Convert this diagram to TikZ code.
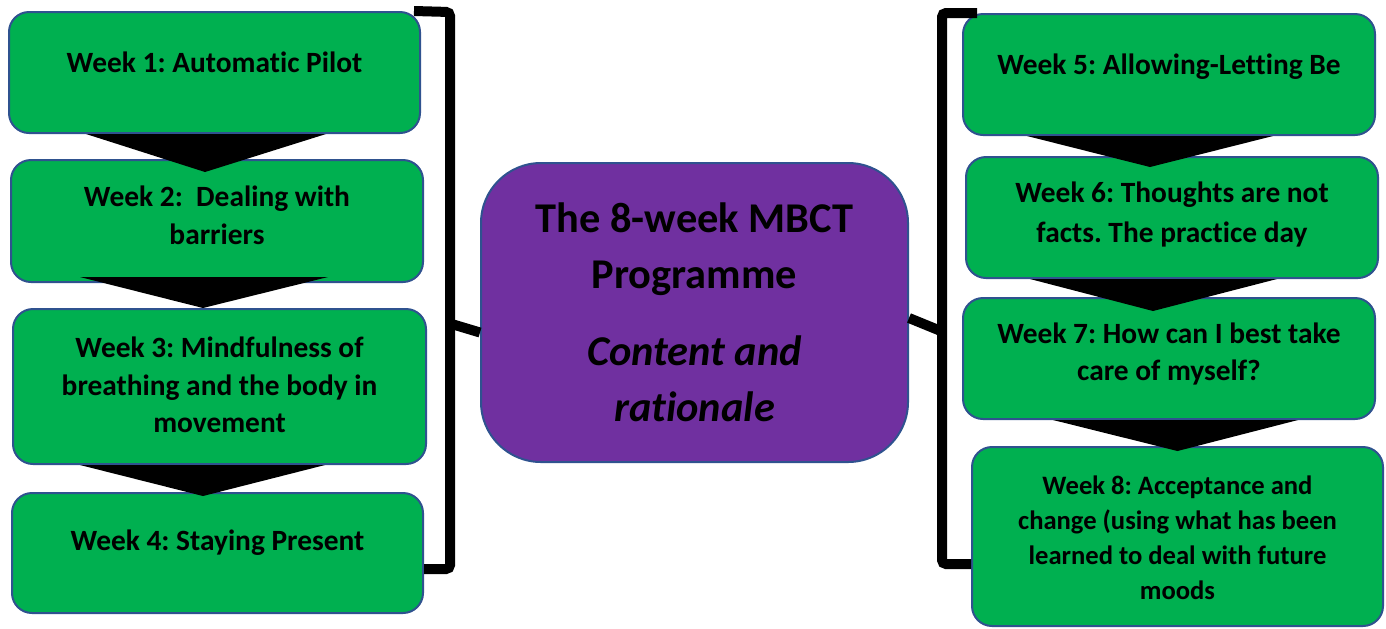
\documentclass[tikz,border=0pt]{standalone}
\usepackage{fontspec}
\setmainfont{Carlito}[Ligatures=NoCommon]
\frenchspacing
\definecolor{weekgreen}{HTML}{00B050}
\definecolor{boxblue}{HTML}{2F528F}
\definecolor{mbctpurple}{HTML}{7030A0}
\tikzset{
	weekbox/.style={draw=boxblue, fill=weekgreen, line width=1pt, rounded corners=10pt, inner sep=0pt},
	weektext/.style={align=center, inner sep=0pt, font=\bfseries\fontsize{14.7}{18.75}\selectfont},
	mainbox/.style={draw=boxblue, fill=mbctpurple, line width=1pt, rounded corners=30pt, inner sep=0pt, align=center, font=\bfseries\fontsize{21.2}{28}\selectfont},
	bracket/.style={line width=5pt, rounded corners=2pt},
	chevron/.style={fill=black}
}

\begin{document}
\begin{tikzpicture}[x=0.5pt, y=-0.5pt]
			\useasboundingbox (0,0) rectangle (1386,628);
			\node[weekbox, minimum width=205.5pt, minimum height=60.5pt] (w1) at (214.5,72.5) {};
			\node[weekbox, minimum width=206pt, minimum height=61pt] (w2) at (217,221) {};
			\node[weekbox, minimum width=206.5pt, minimum height=77.5pt] (w3) at (219.5,386.5) {};
			\node[weekbox, minimum width=205.5pt, minimum height=60pt] (w4) at (217.5,553) {};
			\node[weekbox, minimum width=206pt, minimum height=60.5pt] (w5) at (1169,74.5) {};
			\node[weekbox, minimum width=206pt, minimum height=60.5pt] (w6) at (1172,217.5) {};
			\node[weekbox, minimum width=206pt, minimum height=60.5pt] (w7) at (1169,358.5) {};
			\node[weekbox, minimum width=205.5pt, minimum height=89.5pt] (w8) at (1177.5,536.5) {};
			\node[mainbox, minimum width=213.5pt, minimum height=149.5pt] (centre) at (694.5,312.5)
				{The 8-week MBCT\\Programme\\[10.5pt]\textit{Content and}\\\textit{rationale}};
			\node[weektext] (t1) at ([yshift=5.25pt]w1.center) {Week 1: Automatic Pilot};
			\node[weektext] (t2) at ([yshift=2.75pt]w2.center) {Week 2:\ \ Dealing with\\barriers};
			\node[weektext] (t3) at ([yshift=0.75pt]w3.center) {Week 3: Mindfulness of\\breathing and the body in\\movement};
			\node[weektext] (t4) at ([yshift=5pt]w4.center) {Week 4: Staying Present};
			\node[weektext] (t5) at ([yshift=4pt]w5.center) {Week 5: Allowing-Letting Be};
			\node[weektext, font=\bfseries\fontsize{14.7}{20}\selectfont] (t6) at ([yshift=1.5pt]w6.center) {Week 6: Thoughts are not\\facts. The practice day};
			\node[weektext] (t7) at ([yshift=2.25pt]w7.center) {Week 7: How can I best take\\care of myself?};
			\node[weektext, font=\bfseries\fontsize{13.3}{17.5}\selectfont] (t8) at ([yshift=-0.5pt]w8.center) {Week 8: Acceptance and\\change (using what has been\\learned to deal with future\\moods};
			\fill[chevron] ([xshift=-64.25pt]w1.south) -- ([xshift=55.75pt]w1.south) -- ([xshift=-6pt, yshift=-6.5pt]w2.north) -- cycle;
			\fill[chevron] ([xshift=-68.5pt, yshift=3pt]w2.south) -- ([xshift=55.5pt, yshift=3pt]w2.south) -- ([xshift=-8.25pt]w3.north) -- cycle;
			\fill[chevron] ([xshift=-69.75pt]w3.south) -- ([xshift=52.75pt]w3.south) -- ([xshift=-7.25pt, yshift=-2pt]w4.north) -- cycle;
			\fill[chevron] ([xshift=-71pt]w5.south) -- ([xshift=52pt]w5.south) -- ([xshift=-11pt, yshift=-5.5pt]w6.north) -- cycle;
			\fill[chevron] ([xshift=-71pt]w6.south) -- ([xshift=52.5pt]w6.south) -- ([xshift=-8pt, yshift=-7pt]w7.north) -- cycle;
			\fill[chevron] ([xshift=-58pt]w7.south) -- ([xshift=64.5pt]w7.south) -- ([yshift=-2.5pt]w8.north) -- cycle;
			\coordinate (ltop) at (450,12);
			\coordinate (lbot) at (450,569);
			\coordinate (lmid) at (450,323.5);
			\coordinate (rtop) at (942,13);
			\coordinate (rbot) at (942,564);
			\coordinate (rmid) at (942,331.5);
			\draw[bracket] ([xshift=-3.5pt]w1.north east) -- (ltop) -- (lbot) -- (lbot -| w4.east);
			\draw[bracket] ([xshift=7.5pt]w5.north west) -- (rtop) -- (rbot) -- (rbot -| w8.west);
			\draw[bracket] (lmid) -- ([yshift=-10pt]centre.west);
			\draw[bracket] ([yshift=-2.75pt]centre.east) -- (rmid);
		\end{tikzpicture}
\end{document}
